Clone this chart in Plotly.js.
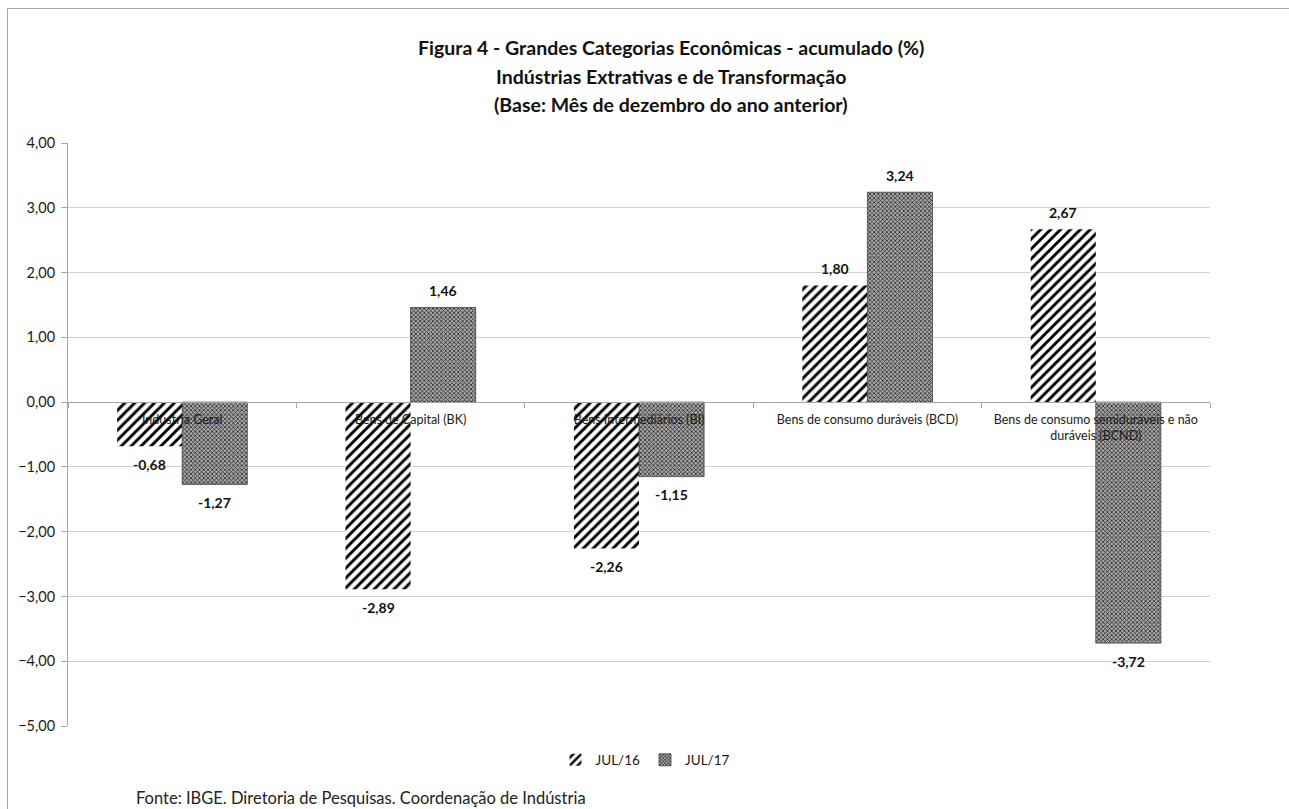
<!DOCTYPE html>
<html>
<head>
<meta charset="utf-8">
<script src="https://cdn.plot.ly/plotly-3.0.1.min.js"></script>
<style>
  html, body { margin: 0; padding: 0; background: #fff; }
  #chart { width: 1289px; height: 809px; }
</style>
</head>
<body>
<div id="chart"></div>
<script>
const categories = [
  "Indústria Geral",
  "Bens de Capital (BK)",
  "Bens Intermediários (BI)",
  "Bens de consumo duráveis (BCD)",
  "Bens de consumo semiduráveis e não<br>duráveis (BCND)"
];
const seriesNames = ["JUL/16", "JUL/17"];
const jul16 = [-0.68, -2.89, -2.26, 1.80, 2.67];
const jul17 = [-1.27, 1.46, -1.15, 3.24, -3.72];
const yTicks = [4, 3, 2, 1, 0, -1, -2, -3, -4, -5];
const titleLines = [
  "Figura 4 - Grandes Categorias Econômicas - acumulado (%)",
  "Indústrias Extrativas e de Transformação",
  "(Base: Mês de dezembro do ano anterior)"
];
const sourceText = "Fonte: IBGE. Diretoria de Pesquisas. Coordenação de Indústria";

const FONT = "Lato, 'Open Sans', sans-serif";
const PLOT_L = 68, PLOT_R = 1210, PLOT_T = 143, PLOT_B = 726;
const PW = PLOT_R - PLOT_L, PH = PLOT_B - PLOT_T;
const px2x = (px) => (px - PLOT_L) / PW;
const px2y = (py) => (PLOT_B - py) / PH;

const traces = [
  {
    type: "bar",
    name: seriesNames[0],
    x: categories,
    y: jul16,
    marker: {
      color: "#ffffff",
      pattern: { shape: "/", fgcolor: "#000000", bgcolor: "#ffffff", size: 7, solidity: 0.42 },
      line: { width: 0 }
    },
    hoverinfo: "skip"
  },
  {
    type: "bar",
    name: seriesNames[1],
    x: categories,
    y: jul17,
    marker: {
      color: "#808080",
      pattern: { shape: "x", fgcolor: "#262626", bgcolor: "#a8a8a8", size: 3, solidity: 0.45 },
      line: { width: 0.8, color: "#404040" }
    },
    hoverinfo: "skip"
  }
];

const fmt = (v) => v.toFixed(2).replace(".", ",");
const annotations = [];
[jul16, jul17].forEach((series, si) => {
  series.forEach((v, i) => {
    annotations.push({
      xref: "x", yref: "y",
      x: categories[i], y: v,
      xshift: si === 0 ? -32.5 : 32.5,
      yshift: v >= 0 ? 17 : -18,
      text: fmt(v),
      showarrow: false,
      xanchor: "center", yanchor: "middle",
      font: { family: FONT, size: 14, color: "#111", weight: "bold" }
    });
  });
});
const titleY = [47, 76, 105];
titleLines.forEach((t, i) => {
  annotations.push({
    xref: "paper", yref: "paper",
    x: px2x(671), y: px2y(titleY[i]),
    xanchor: "center", yanchor: "middle",
    text: t, showarrow: false,
    font: { family: FONT, size: 19.5, color: "#111", weight: "bold" }
  });
});
annotations.push({
  text: sourceText,
  xref: "paper", yref: "paper",
  x: px2x(134), y: px2y(798),
  xanchor: "left", yanchor: "middle",
  showarrow: false,
  font: { family: FONT, size: 16.5, color: "#222" }
});

const layout = {
  width: 1289,
  height: 809,
  margin: { l: PLOT_L, r: 1289 - PLOT_R, t: PLOT_T, b: 809 - PLOT_B },
  paper_bgcolor: "#ffffff",
  plot_bgcolor: "#ffffff",
  separators: ",.",
  barmode: "group",
  bargap: 0.43,
  bargroupgap: 0,
  showlegend: true,
  xaxis: {
    type: "category",
    anchor: "free",
    position: 5 / 9,
    showline: true,
    linecolor: "#a6a6a6",
    linewidth: 1,
    ticks: "outside",
    tickson: "boundaries",
    ticklen: 5,
    tickcolor: "#a6a6a6",
    showgrid: false,
    zeroline: false,
    ticklabelstandoff: 6,
    tickfont: { family: FONT, size: 12.5, color: "#1a1a1a" },
    layer: "above traces"
  },
  yaxis: {
    range: [-5, 4],
    tickvals: yTicks,
    tickformat: ".2f",
    showline: true,
    linecolor: "#a6a6a6",
    linewidth: 1,
    ticks: "outside",
    ticklen: 6,
    tickcolor: "#a6a6a6",
    showgrid: true,
    gridcolor: "#d0d0d0",
    gridwidth: 1,
    zeroline: false,
    ticklabelstandoff: 3,
    tickfont: { family: FONT, size: 14.5, color: "#1a1a1a" }
  },
  legend: {
    orientation: "h",
    x: px2x(645),
    xanchor: "center",
    y: px2y(760),
    yanchor: "middle",
    font: { family: FONT, size: 13.5, color: "#1a1a1a" },
    itemwidth: 30
  },
  annotations: annotations,
  shapes: [
    {
      type: "line", xref: "paper", yref: "paper",
      x0: px2x(7.5), x1: px2x(1289),
      y0: px2y(8.5), y1: px2y(8.5),
      line: { color: "#a6a6a6", width: 1 }
    },
    {
      type: "line", xref: "paper", yref: "paper",
      x0: px2x(7.5), x1: px2x(7.5),
      y0: px2y(8.5), y1: px2y(809),
      line: { color: "#a6a6a6", width: 1 }
    }
  ]
};

Plotly.newPlot("chart", traces, layout, { staticPlot: true, displayModeBar: false });
</script>
</body>
</html>
